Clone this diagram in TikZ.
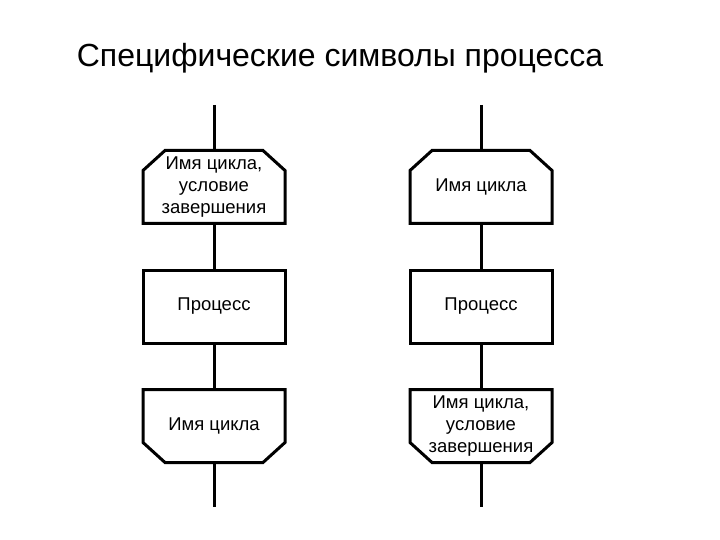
\documentclass[tikz,border=0pt]{standalone}
\usepackage{fontspec}
\setmainfont{Liberation Sans}
\usetikzlibrary{positioning}
\tikzset{
  proc/.style={draw, line width=3pt, minimum width=142pt, minimum height=73pt,
               inner sep=2pt, align=center, font=\fontsize{18.5pt}{22pt}\selectfont},
  loopbox/.style={proc, draw=none, outer sep=0pt},
  flow/.style={line width=3pt},
  ttl/.style={font=\fontsize{32pt}{38pt}\selectfont},
}
\begin{document}
\begin{tikzpicture}[x=1pt,y=-1pt]
\useasboundingbox (0,0) rectangle (720,540);

\node[ttl, anchor=base] (title) at (340,67) {Специфические символы процесса};

% --- left: condition in the loop start ---
\node[loopbox] (lbeg) at (214,187) {Имя цикла,\\условие\\завершения};
\node[proc] (lproc) [below=45pt of lbeg] {Процесс};
\node[loopbox] (lend) [below=45pt of lproc] {Имя цикла};
\coordinate (ltop) at (214,105);
\coordinate (lbot) at (214,507);
\draw[flow] (ltop) -- (lbeg);
\draw[flow] (lbeg) -- (lproc);
\draw[flow] (lproc) -- (lend);
\draw[flow] (lend) -- (lbot);

% --- right: condition in the loop end ---
\node[loopbox] (rbeg) at (481,187) {Имя цикла};
\node[proc] (rproc) [below=45pt of rbeg] {Процесс};
\node[loopbox] (rend) [below=45pt of rproc] {Имя цикла,\\условие\\завершения};
\coordinate (rtop) at (481,105);
\coordinate (rbot) at (481,507);
\draw[flow] (rtop) -- (rbeg);
\draw[flow] (rbeg) -- (rproc);
\draw[flow] (rproc) -- (rend);
\draw[flow] (rend) -- (rbot);

% chamfered outlines: loop start (top corners), loop end (bottom corners)
\foreach \n in {lbeg,rbeg}
  \draw[flow] ([xshift=22pt]\n.north west) -- ([xshift=-22pt]\n.north east)
    -- ([yshift=-20pt]\n.north east) -- (\n.south east) -- (\n.south west)
    -- ([yshift=-20pt]\n.north west) -- cycle;
\foreach \n in {lend,rend}
  \draw[flow] (\n.north west) -- (\n.north east) -- ([yshift=20pt]\n.south east)
    -- ([xshift=-22pt]\n.south east) -- ([xshift=22pt]\n.south west)
    -- ([yshift=20pt]\n.south west) -- cycle;

\end{tikzpicture}
\end{document}
